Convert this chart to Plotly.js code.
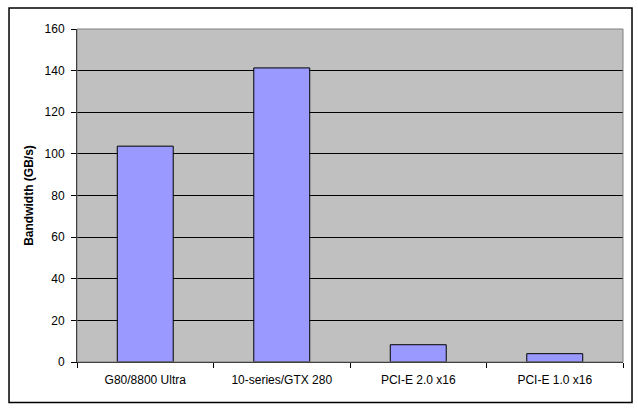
<!DOCTYPE html>
<html>
<head>
<meta charset="utf-8">
<script src="https://cdn.plot.ly/plotly-3.0.1.min.js"></script>
<style>
  body { margin: 0; background: #fff; }
  #chart { width: 638px; height: 408px; }
</style>
</head>
<body>
<div id="chart"></div>
<script>
// Values.
const categories = ['G80/8800 Ultra', '10-series/GTX 280', 'PCI-E 2.0 x16', 'PCI-E 1.0 x16'];
const bandwidth = [103.7, 141.3, 8.3, 4];
const yTicks = [0, 20, 40, 60, 80, 100, 120, 140, 160];

const font = {family: 'Arial, "Liberation Sans", sans-serif', size: 12, color: '#000'};

const data = [{
  type: 'bar',
  x: categories,
  y: bandwidth,
  marker: {
    color: '#9999FF',
    line: {color: '#000', width: 1}
  },
  hoverinfo: 'skip'
}];

const layout = {
  width: 638,
  height: 408,
  margin: {l: 77, r: 15, t: 29, b: 46},
  paper_bgcolor: '#fff',
  plot_bgcolor: '#C0C0C0',
  font: font,
  showlegend: false,
  bargap: 0.59,
  xaxis: {
    type: 'category',
    tickson: 'boundaries',
    ticks: 'outside',
    ticklen: 5,
    tickcolor: '#000',
    ticklabelstandoff: 7,
    showline: true,
    linecolor: '#000',
    linewidth: 1,
    showgrid: false,
    tickfont: font,
    fixedrange: true
  },
  yaxis: {
    range: [0, 160],
    tickvals: yTicks,
    ticks: 'outside',
    ticklen: 5,
    tickcolor: '#000',
    ticklabelstandoff: 4,
    showline: true,
    linecolor: '#000',
    linewidth: 1,
    showgrid: true,
    gridcolor: '#000',
    gridwidth: 1,
    zeroline: false,
    tickfont: font,
    title: {
      text: '<b>Bandwidth (GB/s)</b>',
      font: font,
      standoff: 8
    },
    fixedrange: true
  },
  shapes: [
    // plot area border
    {type: 'rect', xref: 'paper', yref: 'paper', x0: 0, x1: 1, y0: 0, y1: 1,
     line: {color: '#808080', width: 1}, layer: 'above'},
    // outer chart border
    {type: 'rect', xref: 'paper', yref: 'paper',
     x0: -0.1245, x1: 1.0165, y0: -0.1216, y1: 1.063,
     line: {color: '#000', width: 1.5}}
  ]
};

Plotly.newPlot('chart', data, layout, {displayModeBar: false, staticPlot: true});
</script>
</body>
</html>
